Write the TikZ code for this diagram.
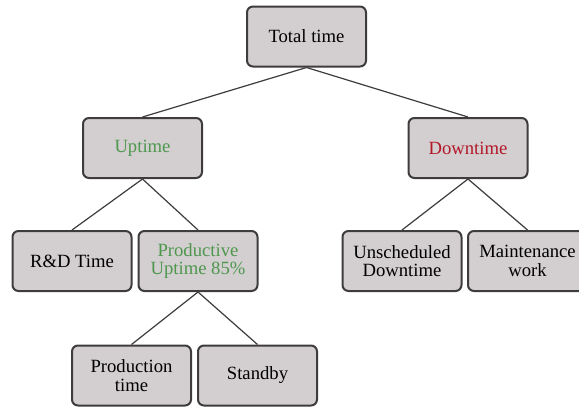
\documentclass[tikz,border=0pt]{standalone}
\usepackage{fontspec}
\setmainfont{Liberation Serif}
\definecolor{boxgray}{RGB}{211,206,208}
\definecolor{edgegray}{RGB}{62,60,62}
\definecolor{upgreen}{RGB}{78,152,78}
\definecolor{downred}{RGB}{178,24,40}
\tikzset{
  tbox/.style={draw=edgegray, line width=1.5pt, fill=boxgray, rounded corners=4.5pt,
    minimum width=89.25pt, minimum height=45pt, inner sep=1pt, align=center,
    font=\fontsize{14}{13.7}\selectfont},
  link/.style={draw=edgegray, line width=0.9pt}
}
\begin{document}
\begin{tikzpicture}[x=0.75pt,y=0.75pt,yscale=-1,xscale=1]
\clip (0,0) rectangle (579,407);
\fill[white] (0,0) rectangle (579,407);

%Shape: Rectangle [top]
\node [tbox] (total) at (306.5,36.5) {Total time};
%Shape: Rectangle [second row]
\node [tbox, text=upgreen] (up) at (142.5,148) {Uptime};
\node [tbox, text=downred] (down) at (468,148) {Downtime};
%Shape: Rectangle [third row]
\node [tbox] (rd) at (72,261) {R\&D Time};
\node [tbox, text=upgreen] (prod) at (198,261) {Productive\\Uptime 85\%};
\node [tbox] (unsched) at (402,261) {Unscheduled\\Downtime};
\node [tbox] (maint) at (527.5,261) {Maintenance\\work};
%Shape: Rectangle [bottom row]
\node [tbox] (ptime) at (131.5,375.5) {Production\\time};
\node [tbox] (standby) at (257.5,375.5) {Standby};

%Straight Lines
\draw [link] (total.south) -- (up.north);
\draw [link] (total.south) -- (down.north);
\draw [link] (up.south) -- (rd.north);
\draw [link] (up.south) -- (prod.north);
\draw [link] (down.south) -- (unsched.north);
\draw [link] (down.south) -- (maint.north);
\draw [link] (prod.south) -- (ptime.north);
\draw [link] (prod.south) -- (standby.north);

\end{tikzpicture}
\end{document}
